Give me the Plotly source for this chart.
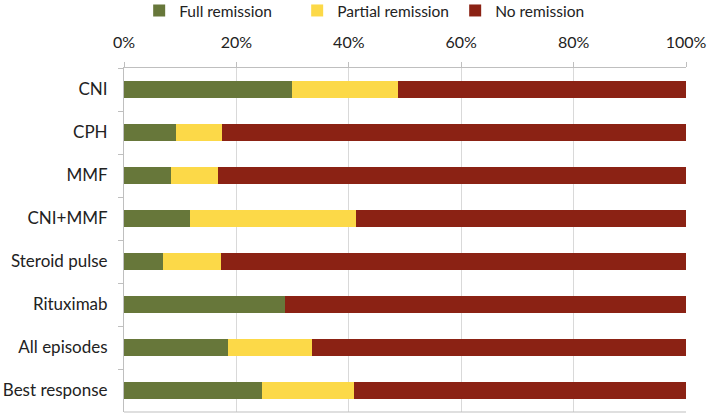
import plotly.graph_objects as go

categories = ["CNI", "CPH", "MMF", "CNI+MMF", "Steroid pulse", "Rituximab", "All episodes", "Best response"]
full_remission = [29.9, 9.2, 8.3, 11.8, 6.9, 28.7, 18.5, 24.5]
partial_remission = [18.8, 8.2, 8.4, 29.5, 10.3, 0.0, 14.9, 16.5]
no_remission = [round(100 - f - p, 1) for f, p in zip(full_remission, partial_remission)]
tick_vals = [0, 20, 40, 60, 80, 100]
tick_text = ["0%", "20%", "40%", "60%", "80%", "100%"]

FONT = "Lato, Open Sans, sans-serif"
fig = go.Figure()
for name, vals, col in [("Full remission", full_remission, "#67773A"),
                        ("Partial remission", partial_remission, "#FCD948"),
                        ("No remission", no_remission, "#8B2214")]:
    fig.add_trace(go.Bar(y=categories, x=vals, name=name, orientation="h",
                         marker=dict(color=col, line=dict(width=0)), width=0.4))

fig.update_layout(
    barmode="stack",
    width=708, height=419,
    margin=dict(l=124, r=22, t=68, b=7, autoexpand=False),
    plot_bgcolor="white", paper_bgcolor="white",
    font=dict(family=FONT, size=17, color="#222222"),
    legend=dict(orientation="h", x=0.027, xanchor="left", y=1.166, yanchor="middle",
                yref="paper", font=dict(size=15.5), traceorder="normal",
                bgcolor="rgba(0,0,0,0)",
                itemwidth=30, entrywidth=113, entrywidthmode="pixels"),
    xaxis=dict(side="top", range=[0, 100], tickvals=tick_vals, ticktext=tick_text,
               showgrid=True, gridcolor="#D9D9D9", gridwidth=1, zeroline=False,
               showline=True, linecolor="#BFBFBF", linewidth=1,
               ticks="outside", ticklen=5, tickcolor="#BFBFBF",
               ticklabelstandoff=8, automargin=False,
               tickfont=dict(size=16)),
    yaxis=dict(categoryorder="array", categoryarray=categories, autorange="reversed",
               showline=True, linecolor="#BFBFBF", linewidth=1,
               ticks="outside", tickson="boundaries", ticklen=5, tickcolor="#BFBFBF",
               ticklabelstandoff=12, automargin=False, tickfont=dict(size=17)),
)
fig.add_shape(type="line", xref="paper", yref="paper", x0=0, x1=1, y0=0, y1=0,
              line=dict(color="#BFBFBF", width=1))
fig.write_html("out.html", config={"displayModeBar": False},
               post_script="document.body.style.margin='0px';")
